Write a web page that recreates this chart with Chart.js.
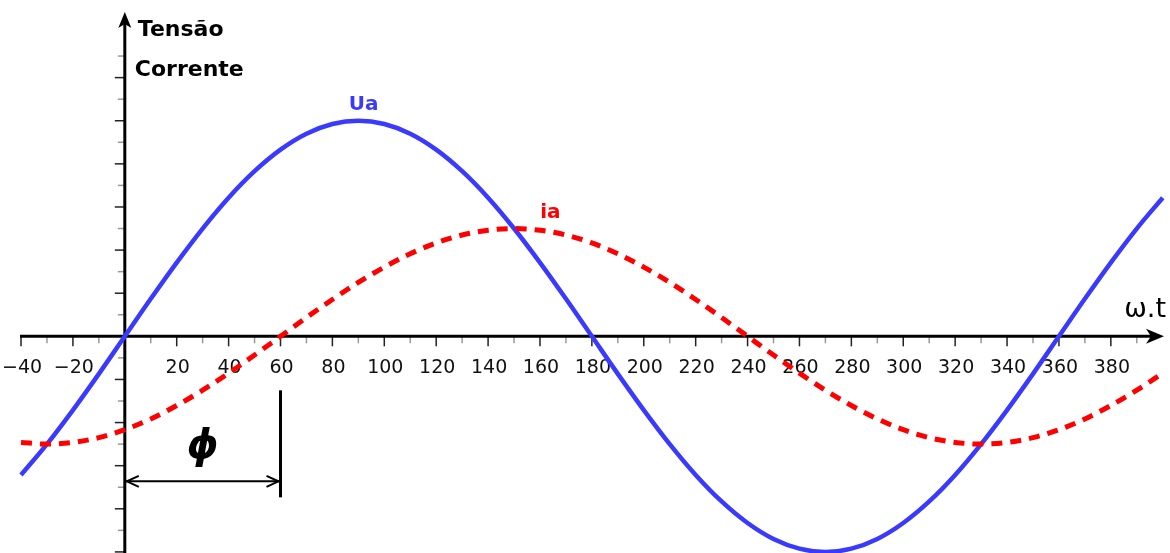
<!DOCTYPE html>
<html>
<head>
<meta charset="utf-8">
<title>Tensão e Corrente</title>
<script src="https://cdn.jsdelivr.net/npm/chart.js@4.4.1/dist/chart.umd.min.js"></script>
<style>
  html, body { margin: 0; padding: 0; background: #fff; }
  #wrap { position: relative; width: 1170px; height: 553px; }
</style>
</head>
<body>
<div id="wrap"><canvas id="chart"></canvas></div>
<script>
// angulo (graus) e valores
const angles = [-40, -30, -20, -10, 0, 10, 20, 30, 40, 50, 60, 70, 80, 90, 100, 110, 120, 130, 140, 150,
  160, 170, 180, 190, 200, 210, 220, 230, 240, 250, 260, 270, 280, 290, 300, 310, 320, 330, 340, 350,
  360, 370, 380, 390, 400];
const uaValues = [-6.43, -5.0, -3.42, -1.74, 0, 1.74, 3.42, 5.0, 6.43, 7.66, 8.66, 9.4, 9.85, 10, 9.85, 9.4, 8.66, 7.66, 6.43, 5.0,
  3.42, 1.74, 0, -1.74, -3.42, -5.0, -6.43, -7.66, -8.66, -9.4, -9.85, -10, -9.85, -9.4, -8.66, -7.66, -6.43, -5.0, -3.42, -1.74,
  0, 1.74, 3.42, 5.0, 6.43];
const iaValues = [-4.92, -5.0, -4.92, -4.7, -4.33, -3.83, -3.21, -2.5, -1.71, -0.87, 0, 0.87, 1.71, 2.5, 3.21, 3.83, 4.33, 4.7, 4.92, 5.0,
  4.92, 4.7, 4.33, 3.83, 3.21, 2.5, 1.71, 0.87, 0, -0.87, -1.71, -2.5, -3.21, -3.83, -4.33, -4.7, -4.92, -5.0, -4.92, -4.7,
  -4.33, -3.83, -3.21, -2.5, -1.71];

const xTickValues = [-40, -30, -20, -10, 10, 20, 30, 40, 50, 60, 70, 80, 90, 100, 110, 120, 130, 140, 150, 160, 170, 180,
  190, 200, 210, 220, 230, 240, 250, 260, 270, 280, 290, 300, 310, 320, 330, 340, 350, 360, 370, 380, 390];
const xLabelValues = [-40, -20, 20, 40, 60, 80, 100, 120, 140, 160, 180, 200, 220, 240, 260, 280, 300, 320, 340, 360, 380];
const yTickValues = [-10, -9, -8, -7, -6, -5, -4, -3, -2, -1, 1, 2, 3, 4, 5, 6, 7, 8, 9, 10, 11, 12, 13];
const phaseAngle = 60;

const blue = 'rgb(58, 58, 255)';
const red = 'rgb(255, 0, 0)';

function line(ctx, x1, y1, x2, y2) {
  ctx.beginPath();
  ctx.moveTo(x1, y1);
  ctx.lineTo(x2, y2);
  ctx.stroke();
}

const axesPlugin = {
  id: 'eixos',
  beforeDatasetsDraw(chart) {
    const ctx = chart.ctx;
    const xs = chart.scales.x, ys = chart.scales.y;
    const x0 = xs.getPixelForValue(0), y0 = ys.getPixelForValue(0);
    const xStart = xs.getPixelForValue(-40) - 1;
    const xEnd = chart.chartArea.right - 6;
    const yTop = 12;
    ctx.save();

    // ticks do eixo x
    xTickValues.forEach(v => {
      const px = xs.getPixelForValue(v);
      const major = v % 20 === 0;
      ctx.strokeStyle = major ? '#222' : '#999';
      ctx.lineWidth = 1.5;
      line(ctx, px, y0, px, y0 + (major ? 10 : 7));
    });
    // ticks do eixo y
    yTickValues.forEach(v => {
      const py = ys.getPixelForValue(v);
      const major = v % 2 === 0;
      ctx.strokeStyle = major ? '#222' : '#999';
      ctx.lineWidth = 1.5;
      line(ctx, x0 - (major ? 10 : 7), py, x0, py);
    });

    // eixos
    ctx.strokeStyle = '#000';
    ctx.lineWidth = 3;
    line(ctx, xStart, y0, xEnd - 12, y0);
    line(ctx, x0, chart.chartArea.bottom, x0, yTop + 12);

    // setas
    ctx.fillStyle = '#000';
    ctx.beginPath();
    ctx.moveTo(xEnd, y0);
    ctx.lineTo(xEnd - 18, y0 - 7.5);
    ctx.lineTo(xEnd - 13, y0);
    ctx.lineTo(xEnd - 18, y0 + 7.5);
    ctx.closePath();
    ctx.fill();
    ctx.beginPath();
    ctx.moveTo(x0, yTop);
    ctx.lineTo(x0 - 6.5, yTop + 16);
    ctx.lineTo(x0, yTop + 12);
    ctx.lineTo(x0 + 6.5, yTop + 16);
    ctx.closePath();
    ctx.fill();

    // rotulos do eixo x
    ctx.fillStyle = '#111';
    ctx.font = '19px "DejaVu Sans"';
    ctx.textAlign = 'center';
    ctx.textBaseline = 'middle';
    xLabelValues.forEach(v => {
      const txt = v < 0 ? '\u2212' + Math.abs(v) : String(v);
      ctx.fillText(txt, xs.getPixelForValue(v) + 1, y0 + 32);
    });
    ctx.restore();
  },
  afterDatasetsDraw(chart) {
    const ctx = chart.ctx;
    const xs = chart.scales.x, ys = chart.scales.y;
    const x0 = xs.getPixelForValue(0), y0 = ys.getPixelForValue(0);
    ctx.save();
    ctx.textBaseline = 'alphabetic';

    ctx.fillStyle = '#000';
    ctx.font = 'bold 22px "DejaVu Sans"';
    ctx.textAlign = 'left';
    ctx.fillText('Tensão', x0 + 13, 36);
    ctx.fillText('Corrente', x0 + 10, 76);

    ctx.font = '27px "DejaVu Sans"';
    ctx.textAlign = 'right';
    ctx.fillText('ω.t', chart.chartArea.right - 4, y0 - 19);

    ctx.font = 'bold 20px "DejaVu Sans"';
    ctx.textAlign = 'center';
    ctx.fillStyle = blue;
    ctx.fillText('Ua', xs.getPixelForValue(92), ys.getPixelForValue(10) - 11);
    ctx.fillStyle = red;
    ctx.fillText('ia', xs.getPixelForValue(164), ys.getPixelForValue(5) - 11);

    // defasagem phi
    const xp = xs.getPixelForValue(phaseAngle);
    const ya = y0 + 145;
    ctx.strokeStyle = '#000';
    ctx.lineWidth = 3;
    line(ctx, xp, y0 + 54, xp, y0 + 161);
    ctx.lineWidth = 2;
    line(ctx, x0 + 1, ya, xp - 1, ya);
    ctx.beginPath();
    ctx.moveTo(x0 + 14, ya - 5.5);
    ctx.lineTo(x0 + 2, ya);
    ctx.lineTo(x0 + 14, ya + 5.5);
    ctx.moveTo(xp - 14, ya - 5.5);
    ctx.lineTo(xp - 2, ya);
    ctx.lineTo(xp - 14, ya + 5.5);
    ctx.stroke();

    ctx.fillStyle = '#000';
    ctx.font = 'italic bold 40px "DejaVu Sans"';
    ctx.textAlign = 'center';
    ctx.textBaseline = 'middle';
    ctx.fillText('\u03D5', (x0 + xp) / 2, y0 + 111);
    ctx.restore();
  }
};

const ctx = document.getElementById('chart').getContext('2d');
new Chart(ctx, {
  type: 'line',
  data: {
    datasets: [
      {
        label: 'ia',
        data: angles.map((a, i) => ({ x: a, y: iaValues[i] })),
        borderColor: red,
        borderWidth: 5,
        borderDash: [11, 8],
        borderCapStyle: 'butt',
        cubicInterpolationMode: 'monotone',
        pointRadius: 0,
        fill: false,
        clip: false,
        order: 0
      },
      {
        label: 'Ua',
        data: angles.map((a, i) => ({ x: a, y: uaValues[i] })),
        borderColor: blue,
        borderWidth: 4.5,
        cubicInterpolationMode: 'monotone',
        pointRadius: 0,
        fill: false,
        clip: false,
        order: 1
      }
    ]
  },
  options: {
    responsive: true,
    maintainAspectRatio: false,
    animation: false,
    layout: { padding: 0 },
    plugins: {
      legend: { display: false },
      tooltip: { enabled: false }
    },
    scales: {
      x: { type: 'linear', min: -48.1, max: 402.8, display: false },
      y: { type: 'linear', min: -10.05, max: 15.6, display: false }
    }
  },
  plugins: [axesPlugin]
});
</script>
</body>
</html>
